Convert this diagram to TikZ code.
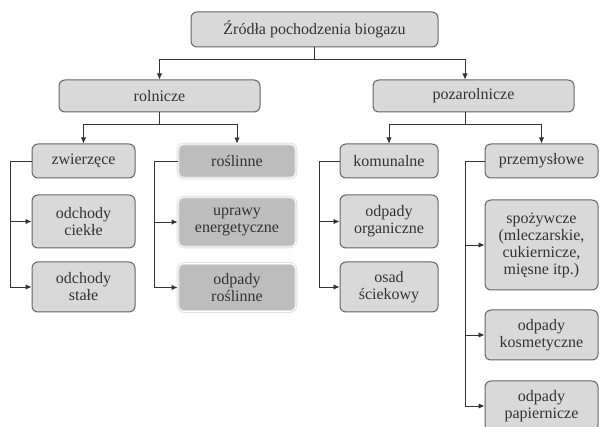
\documentclass[tikz,border=0pt]{standalone}
\usepackage{fontspec}
\setmainfont{Liberation Serif}
\newfontfamily\diagfont{Liberation Serif}
\usetikzlibrary{arrows.meta}
\begin{document}
\begin{tikzpicture}[x=1pt,y=-1pt,font=\diagfont\fontsize{16pt}{17pt}\selectfont,
		box/.style={draw=black!60,fill=gray!30,line width=1pt,rounded corners=6pt,align=center,inner sep=0pt,text=black!80},
		darkbox/.style={box,draw=gray!25,fill=gray!52,double=white,double distance=0.8pt,line width=0.9pt},
		link/.style={-{Latex[length=6pt,width=5.5pt]},line width=0.9pt,draw=black!80}]
	\useasboundingbox (0,0) rectangle (600,427);
	\node[box,minimum width=247,minimum height=35] (zrodla) at (314.5,29.5) {Źródła pochodzenia biogazu};
	\node[box,minimum width=201,minimum height=32] (rolnicze) at (159.5,96) {rolnicze};
	\node[box,minimum width=201,minimum height=32] (pozarolnicze) at (473.5,96) {pozarolnicze};
	\node[box,minimum width=103,minimum height=34] (zwierzece) at (83.5,161) {zwierzęce};
	\node[box,minimum width=103,minimum height=53] (ciekle) at (83.5,221.5) {odchody\\ciekłe};
	\node[box,minimum width=103,minimum height=50] (stale) at (83.5,287) {odchody\\stałe};
	\node[darkbox,minimum width=118,minimum height=34] (roslinne) at (237,161) {roślinne};
	\node[darkbox,minimum width=118,minimum height=50] (uprawy) at (237,222) {uprawy\\energetyczne};
	\node[darkbox,minimum width=118,minimum height=48] (odpadyros) at (237,287.5) {odpady\\roślinne};
	\node[box,minimum width=98,minimum height=34] (komunalne) at (389,161) {komunalne};
	\node[box,minimum width=98,minimum height=53] (organiczne) at (389,221.5) {odpady\\organiczne};
	\node[box,minimum width=98,minimum height=50] (osad) at (389,287) {osad\\ściekowy};
	\node[box,minimum width=113,minimum height=34] (przemyslowe) at (541.5,161) {przemysłowe};
	\node[box,minimum width=113,minimum height=90] (spozywcze) at (541.5,245) {spożywcze\\(mleczarskie,\\cukiernicze,\\mięsne itp.)};
	\node[box,minimum width=113,minimum height=50] (kosmetyczne) at (541.5,335) {odpady\\kosmetyczne};
	\node[box,minimum width=113,minimum height=50] (papiernicze) at (541.5,406) {odpady\\papiernicze};
	\draw[link] (zrodla.south) -- ++(0,11.5) -| (rolnicze.north);
	\draw[link] (zrodla.south) -- ++(0,11.5) -| ([xshift=-8.5]pozarolnicze.north);
	\draw[link] (rolnicze.south) -- ++(0,11.5) -| (zwierzece.north);
	\draw[link] (rolnicze.south) -- ++(0,11.5) -| (roslinne.north);
	\draw[link] ([xshift=-8.5]pozarolnicze.south) -- ++(0,11.5) -| (komunalne.north);
	\draw[link] ([xshift=-8.5]pozarolnicze.south) -- ++(0,11.5) -| (przemyslowe.north);
	\draw[link] (zwierzece.west) -- ++(-21,0) |- (ciekle.west);
	\draw[link] (zwierzece.west) -- ++(-21,0) |- (stale.west);
	\draw[link] (roslinne.west) -- ++(-23,0) |- (uprawy.west);
	\draw[link] (roslinne.west) -- ++(-23,0) |- (odpadyros.west);
	\draw[link] (komunalne.west) -- ++(-20,0) |- (organiczne.west);
	\draw[link] (komunalne.west) -- ++(-20,0) |- (osad.west);
	\draw[link] (przemyslowe.west) -- ++(-19,0) |- (spozywcze.west);
	\draw[link] (przemyslowe.west) -- ++(-19,0) |- (kosmetyczne.west);
	\draw[link] (przemyslowe.west) -- ++(-19,0) |- (papiernicze.west);
\end{tikzpicture}
\end{document}
